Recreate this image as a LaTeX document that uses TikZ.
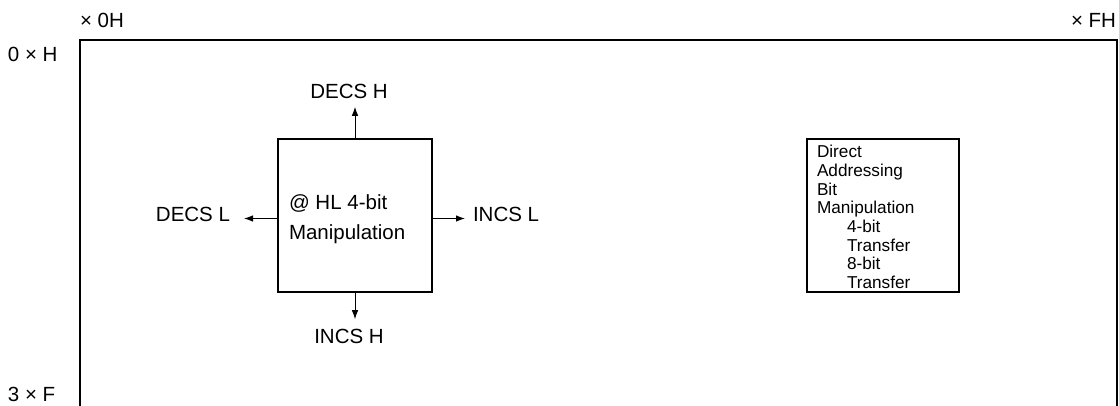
\documentclass[tikz,border=0pt]{standalone}
\usepackage{fontspec}
\setmainfont{Liberation Sans}
\usetikzlibrary{arrows.meta}
\begin{document}
\begin{tikzpicture}[x=1pt,y=-1pt,
  every node/.style={inner sep=0pt, outer sep=0pt},
  frame/.style={line width=1.4pt},
  blockbox/.style={draw, line width=1.3pt, minimum width=154pt, minimum height=153pt},
  lbl/.style={font=\fontsize{20.5}{24}\selectfont},
  arr/.style={line width=1pt, -{Latex[length=9pt,width=6.5pt]}}]
\useasboundingbox (0,0) rectangle (1119,405);

% outer memory frame (open at the bottom)
\coordinate (fbl) at (80,410);
\coordinate (ftl) at (80,40);
\coordinate (ftr) at (1117,40);
\coordinate (fbr) at (1117,410);
\draw[frame] (fbl) -- (ftl) -- (ftr) -- (fbr);

% axis labels
\node[lbl, anchor=west] (colL) at (80,20) {× 0H};
\node[lbl, anchor=east] (colR) at (1116,20) {× FH};
\node[lbl, anchor=west] (rowT) at (8,54) {0 × H};
\node[lbl, anchor=west] (rowB) at (8,394) {3 × F};

% central manipulation block
\node[blockbox] (core) at (355,215.5) {};
\node[anchor=west, align=left, font=\fontsize{20.5}{30}\selectfont] (coretext) at (289,219)
  {@ HL 4-bit\\Manipulation};

\node[lbl] (decsh) at (349,91.5) {DECS H};
\node[lbl] (incsh) at (349,336.5) {INCS H};
\node[lbl, anchor=east] (decsl) at (230,214) {DECS L};
\node[lbl, anchor=west] (incsl) at (473,214) {INCS L};

\draw[arr, shorten >=8pt] (core.north) -- (core.north |- decsh.south);
\draw[arr, shorten >=10pt] (core.south) -- (core.south |- incsh.north);
\draw[arr, shorten >=14pt] ([yshift=-3pt]core.west) -- ([yshift=-3pt]core.west -| decsl.east);
\draw[arr, shorten >=8pt] ([yshift=-3pt]core.east) -- ([yshift=-3pt]core.east -| incsl.west);

% addressing legend
\node[draw, line width=1.1pt, minimum width=152pt, minimum height=153pt] (legend) at (883,215.5) {};
\node[anchor=west, align=left, font=\fontsize{17.2}{18.7}\selectfont] (legendtext) at (817,217)
  {Direct\\Addressing\\Bit\\Manipulation\\\hspace*{30pt}4-bit\\\hspace*{30pt}Transfer\\\hspace*{30pt}8-bit\\\hspace*{30pt}Transfer};
\end{tikzpicture}
\end{document}
